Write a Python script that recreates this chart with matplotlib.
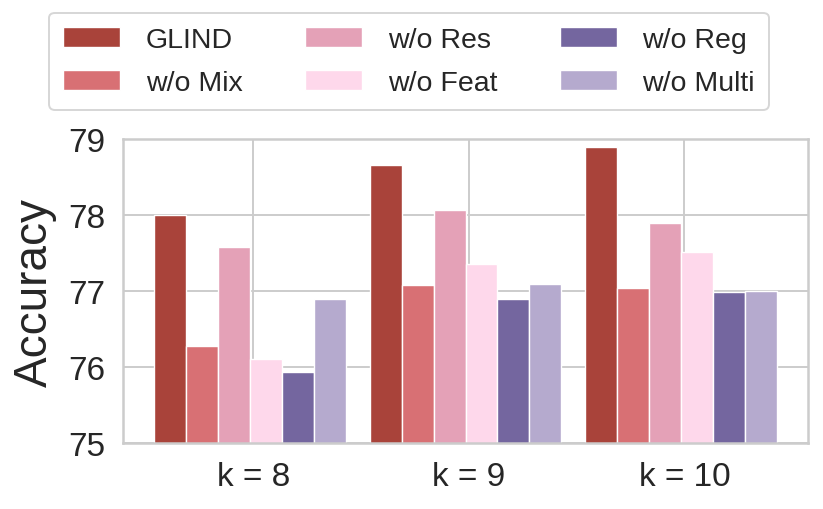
import numpy as np
import matplotlib
matplotlib.use("Agg")
import matplotlib.pyplot as plt
import seaborn as sns

# data
groups = ["k = 8", "k = 9", "k = 10"]
methods = ["GLIND", "w/o Mix", "w/o Res", "w/o Feat", "w/o Reg", "w/o Multi"]
glind = [78.00, 78.66, 78.90]
wo_mix = [76.28, 77.08, 77.04]
wo_res = [77.58, 78.06, 77.89]
wo_feat = [76.10, 77.36, 77.51]
wo_reg = [75.94, 76.90, 76.99]
wo_multi = [76.90, 77.09, 77.00]
series = [glind, wo_mix, wo_res, wo_feat, wo_reg, wo_multi]

colors = ["#A9433A", "#D87074", "#E4A1B7", "#FED8EB", "#74669F", "#B5AACE"]

sns.set_style("whitegrid")
plt.rcParams["font.family"] = ["Liberation Sans", "DejaVu Sans"]
plt.rcParams["axes.edgecolor"] = "#cccccc"
plt.rcParams["grid.color"] = "#cccccc"

fig, ax = plt.subplots(figsize=(8.23, 5.10), dpi=100)
fig.subplots_adjust(left=0.1495, right=0.9818, top=0.7255, bottom=0.1294)

x = np.arange(len(groups))
width = 0.148
for i, (vals, name) in enumerate(zip(series, methods)):
    ax.bar(x + (i - 2.5) * width - 0.015, vals, width, color=colors[i],
           edgecolor="white", linewidth=1, label=name, zorder=2)

ax.set_ylim(75, 79)
ax.set_yticks([75, 76, 77, 78, 79])
ax.set_xticks(x)
ax.set_xticklabels(groups)
ax.tick_params(axis="both", labelsize=24, pad=13, length=0)
ax.set_ylabel("Accuracy", fontsize=33, labelpad=8)
ax.grid(True, linewidth=1.4, zorder=0)
ax.set_axisbelow(True)
for sp in ax.spines.values():
    sp.set_linewidth(1.8)

handles, labels = ax.get_legend_handles_labels()
leg = fig.legend(handles, labels, loc="upper center", bbox_to_anchor=(0.497, 0.973),
                 borderaxespad=0, ncol=3, fontsize=20.5, frameon=True, fancybox=True,
                 borderpad=0.5, labelspacing=0.58, columnspacing=2.2, handletextpad=0.9)
leg.get_frame().set_edgecolor("#cccccc")
leg.get_frame().set_linewidth(1.4)

fig.savefig("out.png", dpi=100)
